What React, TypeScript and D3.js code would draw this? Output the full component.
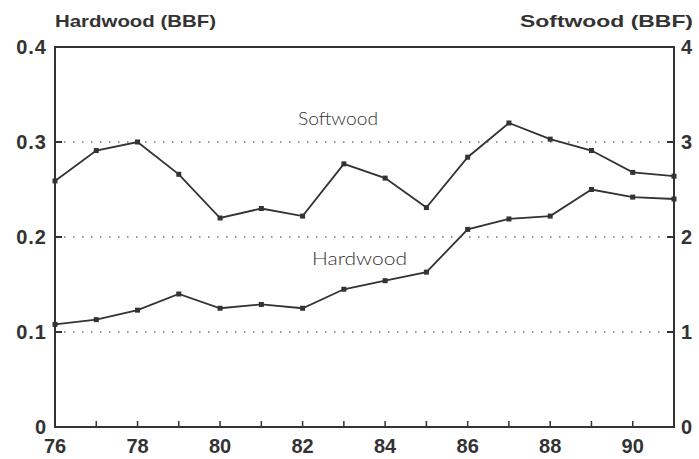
import * as d3 from 'd3'
import React from 'react'

const years = [76, 77, 78, 79, 80, 81, 82, 83, 84, 85, 86, 87, 88, 89, 90, 91]
const softwood = [2.59, 2.91, 3.0, 2.66, 2.2, 2.3, 2.22, 2.77, 2.62, 2.31, 2.84, 3.2, 3.03, 2.91, 2.68, 2.64]
const hardwood = [0.108, 0.113, 0.123, 0.14, 0.125, 0.129, 0.125, 0.145, 0.154, 0.163, 0.208, 0.219, 0.222, 0.25, 0.242, 0.24]
const leftTicks = [0, 0.1, 0.2, 0.3, 0.4]
const rightTicks = [0, 1, 2, 3, 4]
const xLabels = [76, 78, 80, 82, 84, 86, 88, 90]

const width = 699
const height = 459
const margin = { top: 47, right: 25, bottom: 32, left: 55 }
const ink = '#333'

export default function App() {
  const x = d3.scaleLinear().domain([76, 91]).range([margin.left, width - margin.right])
  const yL = d3.scaleLinear().domain([0, 0.4]).range([height - margin.bottom, margin.top])
  const yR = d3.scaleLinear().domain([0, 4]).range([height - margin.bottom, margin.top])

  const softLine = d3
    .line<number>()
    .x((_, i) => x(years[i]))
    .y(d => yR(d))
  const hardLine = d3
    .line<number>()
    .x((_, i) => x(years[i]))
    .y(d => yL(d))

  const x0 = x(76)
  const x1 = x(91)
  const yb = yL(0)
  const yt = yL(0.4)
  const labelFont = '"Liberation Sans", Arial, sans-serif'
  const thinFont = 'Lato, sans-serif'

  return (
    <svg
      width={width}
      height={height}
      style={{ position: 'absolute', left: 0, top: 0, background: '#fff' }}
    >
      {/* gridlines */}
      {[0.1, 0.2, 0.3].map(t => (
        <line
          key={t}
          x1={x0}
          x2={x1}
          y1={yL(t)}
          y2={yL(t)}
          stroke="#777"
          strokeWidth={1.3}
          strokeDasharray="1.5,7.5"
        />
      ))}

      {/* frame */}
      <path d={`M${x0},${yt}H${x1}V${yb}H${x0}Z`} fill="none" stroke={ink} strokeWidth={2} />

      {/* ticks */}
      {leftTicks.map(t => (
        <line key={'l' + t} x1={x0} x2={x0 + 7} y1={yL(t)} y2={yL(t)} stroke={ink} strokeWidth={2} />
      ))}
      {rightTicks.map(t => (
        <line key={'r' + t} x1={x1 - 7} x2={x1} y1={yR(t)} y2={yR(t)} stroke={ink} strokeWidth={2} />
      ))}
      {years.map(t => (
        <line key={'x' + t} x1={x(t)} x2={x(t)} y1={yb} y2={yb - 6} stroke={ink} strokeWidth={1.5} />
      ))}

      {/* tick labels */}
      {leftTicks.map(t => (
        <text
          key={'lt' + t}
          x={x0 - 8}
          y={yL(t) + 7}
          textAnchor="end"
          fontFamily={labelFont}
          fontWeight="bold"
          fontSize={20}
          letterSpacing={1}
          fill={ink}
        >
          {t === 0 ? '0' : t.toFixed(1)}
        </text>
      ))}
      {rightTicks.map(t => (
        <text
          key={'rt' + t}
          x={x1 + 7}
          y={yR(t) + 7}
          textAnchor="start"
          fontFamily={labelFont}
          fontWeight="bold"
          fontSize={20}
          fill={ink}
        >
          {t}
        </text>
      ))}
      {xLabels.map(t => (
        <text
          key={'xt' + t}
          x={x(t)}
          y={yb + 26}
          textAnchor="middle"
          fontFamily={labelFont}
          fontWeight="bold"
          fontSize={20}
          fill={ink}
        >
          {t}
        </text>
      ))}

      {/* axis titles */}
      <text
        x={x0}
        y={27}
        fontFamily={labelFont}
        fontWeight="bold"
        fontSize={17}
        textLength={161}
        lengthAdjust="spacingAndGlyphs"
        fill={ink}
      >
        Hardwood (BBF)
      </text>
      <text
        x={520}
        y={27}
        fontFamily={labelFont}
        fontWeight="bold"
        fontSize={17}
        textLength={173}
        lengthAdjust="spacingAndGlyphs"
        fill={ink}
      >
        Softwood (BBF)
      </text>

      {/* series */}
      <path d={softLine(softwood) ?? ''} fill="none" stroke={ink} strokeWidth={1.8} />
      <path d={hardLine(hardwood) ?? ''} fill="none" stroke={ink} strokeWidth={1.8} />
      {softwood.map((d, i) => (
        <rect key={'s' + i} x={x(years[i]) - 2.5} y={yR(d) - 2.5} width={5} height={5} fill={ink} />
      ))}
      {hardwood.map((d, i) => (
        <rect key={'h' + i} x={x(years[i]) - 2.5} y={yL(d) - 2.5} width={5} height={5} fill={ink} />
      ))}

      {/* series labels */}
      <text
        x={298}
        y={125}
        fontFamily={thinFont}
        fontWeight={300}
        fontSize={18}
        textLength={80}
        lengthAdjust="spacingAndGlyphs"
        fill={ink}
      >
        Softwood
      </text>
      <text
        x={312}
        y={265}
        fontFamily={thinFont}
        fontWeight={300}
        fontSize={18}
        textLength={95}
        lengthAdjust="spacingAndGlyphs"
        fill={ink}
      >
        Hardwood
      </text>
    </svg>
  )
}
